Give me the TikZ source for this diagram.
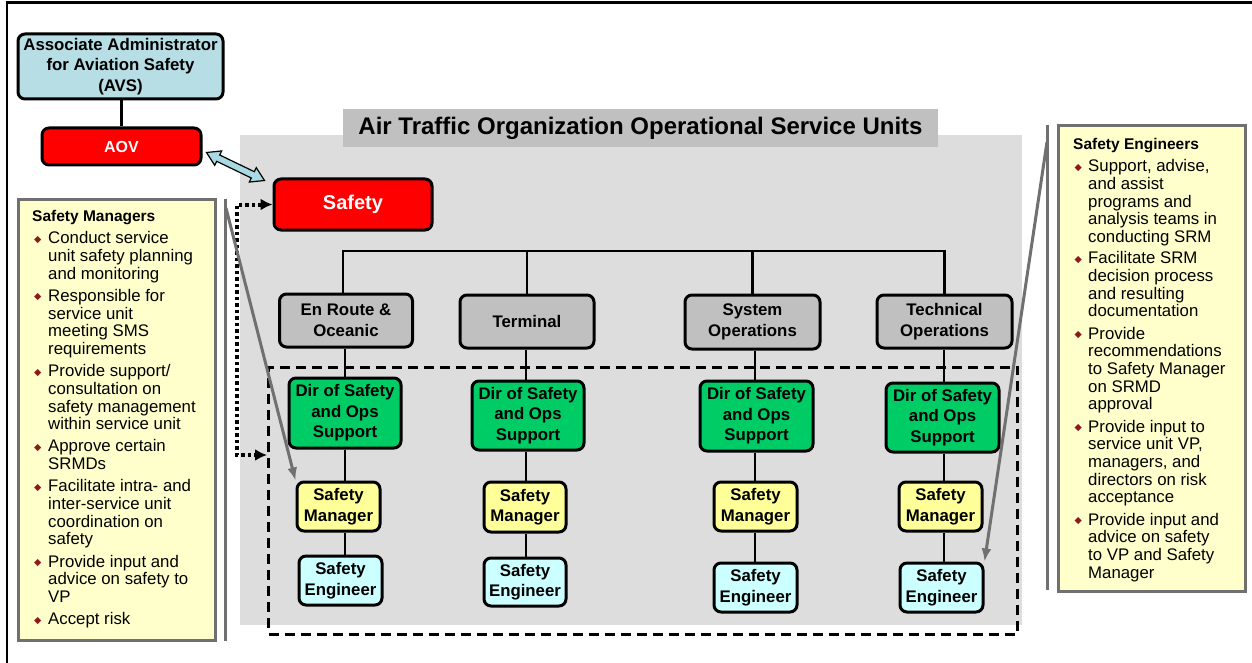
\documentclass[tikz,border=0pt]{standalone}
\usepackage{fontspec}
\setmainfont{Liberation Sans}
\newfontfamily\dejavu{DejaVu Sans}
\usetikzlibrary{arrows.meta,calc}
\definecolor{avsblue}{HTML}{B7DEE4}
\definecolor{arrowblue}{HTML}{A9D9E2}
\definecolor{boxred}{HTML}{FF0000}
\definecolor{boxgreen}{HTML}{00CC66}
\definecolor{boxyellow}{HTML}{FFFF99}
\definecolor{boxcyan}{HTML}{CCFFFF}
\definecolor{boxgray}{HTML}{C0C0C0}
\definecolor{bggray}{HTML}{DDDDDD}
\definecolor{panelfill}{HTML}{FFFFCC}
\definecolor{panelline}{HTML}{707070}
\definecolor{bulred}{HTML}{8B1A1A}
\newcommand\bul{\textcolor{bulred}{\raisebox{1.5pt}{\dejavu\fontsize{9.5}{9.5}\selectfont ◆}}}
\newcommand\itmL{\makebox[16pt][l]{\hspace{2pt}\bul}}
\newcommand\itmR{\makebox[15pt][l]{\hspace{1.5pt}\bul}}
\begin{document}
\begin{tikzpicture}[x=1pt,y=-1pt,
  box/.style={draw=black, line width=3pt, rounded corners=7pt, inner sep=0pt, align=center,
    font=\bfseries\fontsize{16.8}{20.5}\selectfont},
  conn/.style={draw=black, line width=2.6pt},
  panel/.style={draw=panelline, fill=panelfill, line width=3pt, inner sep=0pt},
  paneltext/.style={inner sep=0pt, anchor=north west, font=\fontsize{16.8}{17.7}\selectfont},
  grayarrow/.style={draw=panelline, line width=3pt, -{Latex[length=13pt,width=10pt]}},
  dotarrow/.style={draw=black, line width=4pt, dash pattern=on 3.5pt off 3pt, {Latex[length=12pt,width=12pt]}-{Latex[length=12pt,width=12pt]}},
  dashbox/.style={draw=black, line width=3pt, dash pattern=on 10pt off 6pt, inner sep=0pt}
]
\useasboundingbox (0,0) rectangle (1252,663);
\fill[white] (0,0) rectangle (1252,663);
\draw[line width=2.5pt] (7,663) -- (7,2.5) -- (1252,2.5);

% background region and title
\fill[bggray] (240,135) rectangle (1022,625);
\node[fill=boxgray, minimum width=595, minimum height=38, inner sep=0pt,
  font=\bfseries\fontsize{24}{28}\selectfont] (title) at (640.5,128) {Air Traffic Organization Operational Service Units};

% side panels
\node[panel, minimum width=197, minimum height=440] (lp) at (116.5,420) {};
\node[panel, minimum width=187, minimum height=465] (rp) at (1151.5,358.5) {};
\draw[draw=panelline, line width=3pt] (225,199) -- (225,641);
\draw[draw=panelline, line width=3pt] (1047,125) -- (1047,590);
\coordinate (ls) at (226,208);
\coordinate (rs) at (1047,142);

\node[paneltext] (lt) at (32,209) {\begin{tabular}{@{}l@{}l@{}}
\multicolumn{2}{@{}l@{}}{\bfseries\fontsize{15.5}{17.7}\selectfont Safety Managers}\\[4.5pt]
\itmL & Conduct service\\
 & unit safety planning\\
 & and monitoring\\[4.5pt]
\itmL & Responsible for\\
 & service unit\\
 & meeting SMS\\
 & requirements\\[4.5pt]
\itmL & Provide support/\\
 & consultation on\\
 & safety management\\
 & within service unit\\[4.5pt]
\itmL & Approve certain\\
 & SRMDs\\[4.5pt]
\itmL & Facilitate intra- and\\
 & inter-service unit\\
 & coordination on\\
 & safety\\[4.5pt]
\itmL & Provide input and\\
 & advice on safety to\\
 & VP\\[4.5pt]
\itmL & Accept risk
\end{tabular}};

\node[paneltext] (rt) at (1073,137) {\begin{tabular}{@{}l@{}l@{}}
\multicolumn{2}{@{}l@{}}{\bfseries\fontsize{15.5}{17.7}\selectfont Safety Engineers}\\[4.5pt]
\itmR & Support, advise,\\
 & and assist\\
 & programs and\\
 & analysis teams in\\
 & conducting SRM\\[3.5pt]
\itmR & Facilitate SRM\\
 & decision process\\
 & and resulting\\
 & documentation\\[4.5pt]
\itmR & Provide\\
 & recommendations\\
 & to Safety Manager\\
 & on SRMD\\
 & approval\\[4.5pt]
\itmR & Provide input to\\
 & service unit VP,\\
 & managers, and\\
 & directors on risk\\
 & acceptance\\[4.5pt]
\itmR & Provide input and\\
 & advice on safety\\
 & to VP and Safety\\
 & Manager
\end{tabular}};

% dashed region
\node[dashbox, minimum width=749, minimum height=267] (dbox) at (643,500.5) {};

% top boxes
\node[box, fill=avsblue, minimum width=205, minimum height=65] (avs) at (120.5,66.5) {Associate Administrator\\for Aviation Safety\\(AVS)};
\node[box, fill=boxred, text=white, minimum width=159, minimum height=37,
  font=\bfseries\fontsize{16}{20}\selectfont] (aov) at (121.5,146.5) {AOV};
\node[box, fill=boxred, text=white, minimum width=158, minimum height=51,
  font=\bfseries\fontsize{20}{24}\selectfont] (safety) at (353,204.5) {Safety};

% service units
\node[box, fill=boxgray, minimum width=133, minimum height=53] (g1) at (346,320.5) {En Route \&\\Oceanic};
\node[box, fill=boxgray, minimum width=134, minimum height=53] (g2) at (527,321.5) {Terminal};
\node[box, fill=boxgray, minimum width=135, minimum height=54] (g3) at (752.5,322) {System\\Operations};
\node[box, fill=boxgray, minimum width=135, minimum height=53] (g4) at (944.5,321.5) {Technical\\Operations};

\node[box, fill=boxgreen, minimum width=112, minimum height=70] (d1) at (345,413) {Dir of Safety\\and Ops\\Support};
\node[box, fill=boxgreen, minimum width=112, minimum height=69] (d2) at (528,415.5) {Dir of Safety\\and Ops\\Support};
\node[box, fill=boxgreen, minimum width=113, minimum height=70] (d3) at (756.5,416) {Dir of Safety\\and Ops\\Support};
\node[box, fill=boxgreen, minimum width=113, minimum height=69] (d4) at (942.5,417.5) {Dir of Safety\\and Ops\\Support};

\node[box, fill=boxyellow, minimum width=83, minimum height=49] (m1) at (338.5,506.5) {Safety\\Manager};
\node[box, fill=boxyellow, minimum width=82, minimum height=50] (m2) at (525,507) {Safety\\Manager};
\node[box, fill=boxyellow, minimum width=83, minimum height=49] (m3) at (755.5,506.5) {Safety\\Manager};
\node[box, fill=boxyellow, minimum width=83, minimum height=49] (m4) at (940.5,506.5) {Safety\\Manager};

\node[box, fill=boxcyan, minimum width=83, minimum height=49] (e1) at (340.5,580.5) {Safety\\Engineer};
\node[box, fill=boxcyan, minimum width=82, minimum height=48] (e2) at (525,582) {Safety\\Engineer};
\node[box, fill=boxcyan, minimum width=83, minimum height=49] (e3) at (755.5,587.5) {Safety\\Engineer};
\node[box, fill=boxcyan, minimum width=83, minimum height=49] (e4) at (941.5,587.5) {Safety\\Engineer};

% connectors
\coordinate (hb) at (0,251);
\coordinate (k1) at (345,0);
\coordinate (k2) at (526,0);
\coordinate (k3) at (755,0);
\coordinate (k4) at (944,0);

\draw[conn] (aov.north |- avs.south) -- (aov.north);
\draw[conn] (g1.north -| 343,0) -- (hb -| 343,0) -- (hb -| g4.north) -- (g4.north);
\draw[conn] (hb -| g2.north) -- (g2.north);
\draw[conn] (hb -| g3.north) -- (g3.north);
\foreach \i in {1,2,3,4}{
  \draw[conn] (g\i.south -| k\i) -- (d\i.north -| k\i);
  \draw[conn] (d\i.south -| k\i) -- (m\i.north -| k\i);
  \draw[conn] (m\i.south -| k\i) -- (e\i.north -| k\i);
}

% fat double arrow AOV <-> Safety
\coordinate (da1) at ($(aov.east)+(4,6)$);
\coordinate (da2) at ($(safety.west)+(-8,-24)$);
\coordinate (h1) at ($(da1)!13pt!(da2)$);
\coordinate (h2) at ($(da2)!13pt!(da1)$);
\filldraw[fill=arrowblue, draw=black, line width=1.2pt, line join=miter]
  (da1) -- ($(h1)!8pt!90:(da2)$) -- ($(h1)!3.5pt!90:(da2)$) -- ($(h2)!3.5pt!-90:(da1)$)
  -- ($(h2)!8pt!-90:(da1)$) -- (da2) -- ($(h2)!8pt!90:(da1)$) -- ($(h2)!3.5pt!90:(da1)$)
  -- ($(h1)!3.5pt!-90:(da2)$) -- ($(h1)!8pt!-90:(da2)$) -- cycle;

% dotted arrows
\coordinate (db) at (237,455);
\draw[dotarrow] (safety.west) -| (db) -- (db -| dbox.west);

% gray arrows from panels
\draw[grayarrow] (ls) -- (m1.north west);
\draw[grayarrow] (rs) -- (e4.north east);
\end{tikzpicture}
\end{document}
